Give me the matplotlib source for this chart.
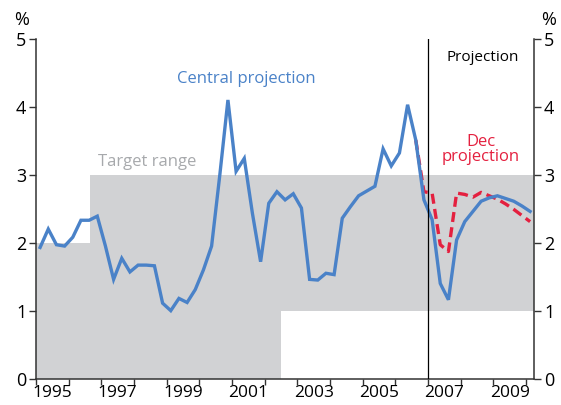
import matplotlib.pyplot as plt
import numpy as np

plt.rcParams['font.family'] = ['Open Sans', 'DejaVu Sans']

# quarterly CPI inflation, 1995 Q1 - 2010 Q1
central = [1.94, 2.21, 1.98, 1.96, 2.09, 2.34, 2.34, 2.40, 1.96, 1.47,
           1.78, 1.58, 1.68, 1.68, 1.67, 1.12, 1.01, 1.19, 1.13, 1.32,
           1.61, 1.96, 3.00, 4.11, 3.06, 3.25, 2.44, 1.73, 2.59, 2.76,
           2.64, 2.73, 2.52, 1.47, 1.46, 1.56, 1.54, 2.37, 2.54, 2.70,
           2.77, 2.84, 3.39, 3.14, 3.33, 4.04, 3.52, 2.64, 2.35, 1.41,
           1.17, 2.05, 2.32, 2.47, 2.62, 2.67, 2.70, 2.66, 2.62, 2.55, 2.47]
# December projection, 2006 Q3 - 2010 Q1
dec = [3.52, 2.76, 2.74, 1.98, 1.88, 2.74, 2.72, 2.68, 2.75, 2.70,
       2.65, 2.58, 2.50, 2.41, 2.32]

# target range steps
target_x = [1995.0, 1996.65, 2002.5, 2010.25]
target_lo = [0, 0, 1]
target_hi = [2, 3, 3]

year_labels = [1995, 1997, 1999, 2001, 2003, 2005, 2007, 2009]
proj_start = 2007.0

x_c = 1995.125 + 0.25 * np.arange(len(central))
x_d = x_c[len(central) - len(dec):]

blue = '#4a82c8'
red = '#e4203f'
grey = '#d1d2d4'

fig = plt.figure(figsize=(5.61, 4.05), dpi=100)
ax = fig.add_axes([0.0642, 0.0635, 0.888, 0.839])

for i in range(len(target_lo)):
    ax.fill_between([target_x[i], target_x[i + 1]], target_lo[i], target_hi[i],
                    color=grey, lw=0, zorder=1)

ax.axvline(proj_start, color='black', lw=0.9, zorder=5)
ax.plot(x_d, dec, color=red, lw=2.4, ls=(0, (3, 1.6)), zorder=3)
ax.plot(x_c, central, color=blue, lw=2.4, zorder=4, solid_joinstyle='miter')

ax.set_xlim(1995.0, 2010.25)
ax.set_ylim(0, 5)

ax.set_xticks(np.arange(1995, 2011))
ax.set_xticklabels([])
ax.set_xticks([y + 0.5 for y in year_labels], minor=True)
ax.set_xticklabels([str(y) for y in year_labels], minor=True)
ax.tick_params(axis='x', which='minor', length=0, labelsize=12.5, pad=4)
ax.tick_params(axis='x', which='major', length=4, width=1, color='#333333')

ax.set_yticks(range(6))
ax.tick_params(axis='y', which='both', left=True, right=True, labelleft=True,
               labelright=True, length=5, width=1, color='#333333',
               labelsize=13, pad=2)

for s in ['left', 'right', 'bottom']:
    ax.spines[s].set_color('#333333')
    ax.spines[s].set_linewidth(1.1)
ax.spines['top'].set_visible(False)

fig.text(22 / 561, 1 - 20 / 405, '%', ha='center', va='center', fontsize=13)
fig.text(549 / 561, 1 - 20 / 405, '%', ha='center', va='center', fontsize=13)

ax.text(2001.44, 4.42, 'Central projection', color=blue, ha='center', va='center',
        fontsize=12)
ax.text(1996.9, 3.2, 'Target range', color='#a7a9ac', ha='left', va='center',
        fontsize=12)
ax.text(2008.68, 4.73, 'Projection', color='black', ha='center', va='center',
        fontsize=11)
ax.text(2008.62, 3.38, 'Dec\nprojection', color=red, ha='center', va='center',
        fontsize=12, linespacing=0.95)

fig.savefig('out.png', dpi=100)
